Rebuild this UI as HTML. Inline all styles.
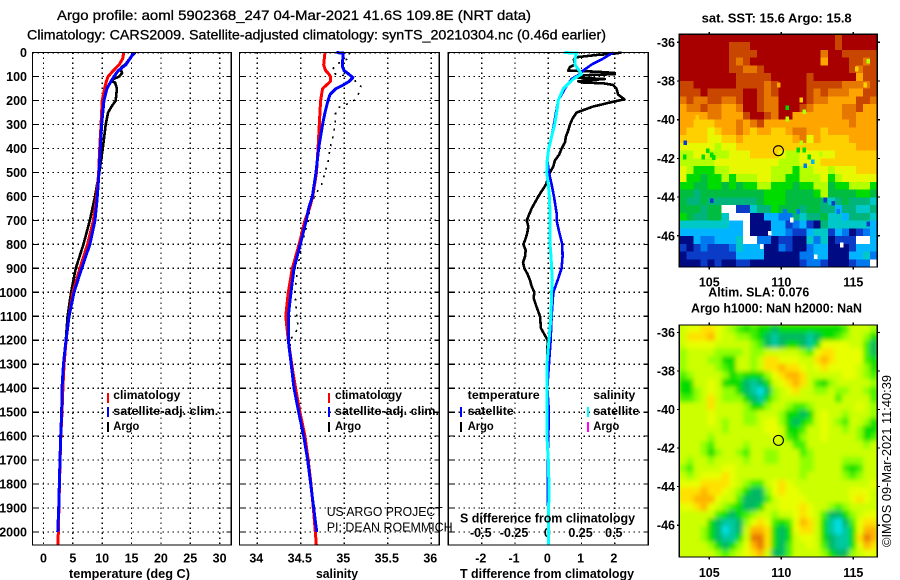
<!DOCTYPE html>
<html lang="en">
<head>
<meta charset="utf-8">
<title>Argo profile 5902368_247</title>
<style>
html,body{margin:0;padding:0;background:#fff;}
body{width:900px;height:580px;overflow:hidden;}
svg{display:block;font-family:"Liberation Sans",sans-serif;fill:#000;}
.b{font-weight:bold;font-size:12.5px;}
.t{font-size:14px;stroke:#000;stroke-width:.3px;}
.n{font-size:13px;}
.l{font-size:12px;font-weight:bold;}
</style>
</head>
<body>
<svg id="chart" xmlns="http://www.w3.org/2000/svg" width="900" height="580" viewBox="0 0 900 580">
  <defs>
    <clipPath id="clip-map-a"><rect x="679.3" y="34.3" width="198" height="232.7"/></clipPath>
    <clipPath id="clip-map-b"><rect x="679.3" y="325" width="198" height="232"/></clipPath>
    <filter id="soft" x="-5%" y="-5%" width="110%" height="110%"><feGaussianBlur stdDeviation="2.5"/></filter>
  </defs>
  <rect width="900" height="580" fill="#fff"/>
  <g id="marks"></g>

  <text class="t" x="57" y="20" textLength="474" lengthAdjust="spacingAndGlyphs">Argo profile: aoml 5902368_247 04-Mar-2021 41.6S 109.8E (NRT data)</text>
  <text class="t" x="27" y="39.5" textLength="579" lengthAdjust="spacingAndGlyphs">Climatology: CARS2009. Satellite-adjusted climatology: synTS_20210304.nc (0.46d earlier)</text>

  <text class="b" x="69" y="578" textLength="121" lengthAdjust="spacingAndGlyphs">temperature (deg C)</text>
  <text class="b" x="316" y="578" textLength="42" lengthAdjust="spacingAndGlyphs">salinity</text>
  <text class="b" x="460" y="578" textLength="174" lengthAdjust="spacingAndGlyphs">T difference from climatology</text>
  <text class="b" x="460" y="522.7" textLength="175" lengthAdjust="spacingAndGlyphs">S difference from climatology</text>

  <text class="l" x="113.3" y="399" textLength="67" lengthAdjust="spacingAndGlyphs">climatology</text>
  <text class="l" x="113.3" y="415" textLength="105" lengthAdjust="spacingAndGlyphs">satellite-adj. clim.</text>
  <text class="l" x="113.3" y="430" textLength="26" lengthAdjust="spacingAndGlyphs">Argo</text>

  <text class="l" x="335" y="399" textLength="67" lengthAdjust="spacingAndGlyphs">climatology</text>
  <text class="l" x="335" y="415" textLength="104" lengthAdjust="spacingAndGlyphs">satellite-adj. clim.</text>
  <text class="l" x="335" y="430" textLength="26" lengthAdjust="spacingAndGlyphs">Argo</text>

  <text class="l" x="467.7" y="399" textLength="72" lengthAdjust="spacingAndGlyphs">temperature</text>
  <text class="l" x="467.7" y="415" textLength="46" lengthAdjust="spacingAndGlyphs">satellite</text>
  <text class="l" x="467.7" y="430" textLength="26" lengthAdjust="spacingAndGlyphs">Argo</text>
  <text class="l" x="593.3" y="399" textLength="42" lengthAdjust="spacingAndGlyphs">salinity</text>
  <text class="l" x="593.3" y="415" textLength="46" lengthAdjust="spacingAndGlyphs">satellite</text>
  <text class="l" x="593.3" y="430" textLength="26" lengthAdjust="spacingAndGlyphs">Argo</text>

  <text class="n" x="326.7" y="516" textLength="116" lengthAdjust="spacingAndGlyphs">US ARGO PROJECT</text>
  <text class="n" x="326.7" y="531.7" textLength="126" lengthAdjust="spacingAndGlyphs">PI: DEAN ROEMMICH</text>

  <text class="b" x="701.7" y="22.7" textLength="150" lengthAdjust="spacingAndGlyphs">sat. SST: 15.6 Argo: 15.8</text>
  <text class="b" x="708.3" y="296.7" textLength="101" lengthAdjust="spacingAndGlyphs">Altim. SLA: 0.076</text>
  <text class="b" x="691" y="312.3" textLength="171" lengthAdjust="spacingAndGlyphs">Argo h1000: NaN h2000: NaN</text>
  <text class="n" transform="translate(891,547) rotate(-90)" textLength="172" lengthAdjust="spacingAndGlyphs">©IMOS 09-Mar-2021 11:40:39</text>
</svg>

<script>
/* ---------- axis ticks ---------- */
var depthTicks = [0,100,200,300,400,500,600,700,800,900,1000,1100,1200,1300,1400,1500,1600,1700,1800,1900,2000];
var tempTicks = [0,5,10,15,20,25,30];
var salTicks = [34,34.5,35,35.5,36];
var salTickLabels = ['34','34.5','35','35.5','36'];
var tDiffTicks = [-2,-1,0,1,2];
var sDiffTicks = [-0.5,-0.25,0,0.25,0.5];
var sDiffTickLabels = ['-0.5','-0.25','0','0.25','0.5'];
var lonTicks = [105,110,115];
var latTicks = [-36,-38,-40,-42,-44,-46];

/* ---------- temperature panel ---------- */
var satTempDepth = [0,50,75,100,120,150,200,300,400,500,600,700,800,900,1000,1100,1200,1300,1400,1500,1600,1700,1800,1900,2000];
var satTemp = [15.4,14.05,12.75,12,11.5,10.8,10.3,9.9,9.68,9.45,9.17,8.77,7.9,6.5,5.2,4.35,3.83,3.4,3.15,3.1,2.93,2.81,2.7,2.6,2.42];
var climTempDepth = [0,25,50,75,100,125,150,175,200,300,400,500,600,700,800,900,1000,1100,1200,1300,1400,1500,1600,1700,1800,1900,2000,2053];
var climTemp = [13.66,13.5,12.9,11.9,11,10.65,10.4,10.2,10,9.8,9.57,9.4,9.05,8.5,7.5,6.2,5,4.35,3.85,3.5,3.3,3.15,2.95,2.83,2.72,2.62,2.53,2.45];
var argoTempDepth = [0,25,50,60,75,85,100,110,120,125,150,200,225,250,300,400,500,600,700,800,900,1000,1100,1200,1300,1400,1500,2000];
var argoTemp = [15.6,14.7,13.9,13.3,13.2,13.4,12.9,11.9,11.6,12.2,12.5,12.3,11.6,11,10.6,10.1,9.5,8.77,7.9,6.8,5.5,4.7,4.1,3.8,3.4,3.15,3.1,2.42];

/* ---------- salinity panel ---------- */
var climSalDepth = [0,25,50,60,75,90,100,120,135,150,200,250,300,400,500,600,650,700,800,900,1000,1100,1200,1300,1400,1500,1600,1700,1800,1900,2000,2053];
var climSal = [34.778,34.77,34.763,34.77,34.786,34.824,34.84,34.84,34.797,34.75,34.728,34.72,34.713,34.698,34.68,34.637,34.6,34.548,34.48,34.403,34.356,34.327,34.356,34.395,34.44,34.49,34.548,34.585,34.617,34.644,34.667,34.678];
var satSalDepth = [0,2,50,60,75,85,100,105,120,135,150,175,200,250,300,350,400,500,600,650,700,800,900,1000,1100,1200,1300,1400,1500,1600,1700,1800,1900,2000];
var satSal = [34.912,34.989,34.977,34.98,34.997,35.035,35.085,35.097,35.057,34.989,34.905,34.836,34.813,34.778,34.75,34.727,34.705,34.675,34.633,34.59,34.563,34.494,34.422,34.387,34.356,34.356,34.39,34.422,34.476,34.533,34.579,34.614,34.648,34.683];
var argoSalDepth = [0,25,30,50,75,90,100,125,140,175,200,215,230,250,300,350,400,450,500,550,600,650,700,800,900,1000,1100,1150,1200,1300,1400];
var argoSal = [35.057,35.057,35.008,34.905,34.855,34.9,35.12,35.13,35.19,35.16,35.11,35.03,34.93,34.9,34.893,34.87,34.836,34.816,34.778,34.74,34.655,34.606,34.587,34.51,34.464,34.433,34.453,34.47,34.376,34.39,34.43];

/* ---------- difference panel ---------- */
var argoDiffDepth = [0,5,10,20,30,50,60,75,80,85,90,95,105,110,115,120,125,128,135,150,175,195,205,225,250,275,300,325,350,375,400,425,450,475,500,550,600,650,700,725,750,775,800,825,850,875,900,925,950,975,1000,1025,1050,1100,1150,1175,1200,1300,2000];
var argoDiff = [2.2,1.95,1.45,0.8,0.77,0.8,0.65,0.6,1.5,2,2,0.95,0.9,1.7,1.25,0.9,1.05,1.65,1.95,2.05,2.1,2.29,1.95,1.35,0.85,0.73,0.65,0.6,0.53,0.5,0.4,0.33,0.2,0.15,0.05,-0.07,-0.3,-0.5,-0.65,-0.6,-0.63,-0.68,-0.75,-0.68,-0.7,-0.76,-0.72,-0.62,-0.55,-0.5,-0.42,-0.44,-0.38,-0.25,-0.22,-0.12,-0.02,-0.03,0];
var satDiffDepth = [0,25,50,75,90,110,130,150,200,250,300,350,400,450,500,550,600,670,700,750,800,850,900,950,1000,1100,1200,1300,1400,1500,1700,2000];
var satDiff = [1.95,1.65,1.3,1.05,0.95,0.7,0.6,0.5,0.3,0.23,0.17,0.1,0.01,-0.03,0.02,0.1,0.17,0.25,0.25,0.33,0.42,0.43,0.4,0.28,0.15,0.1,0.07,0.02,-0.03,0.02,-0.02,0];
var satSalDiffDepth = [0,2,25,50,75,90,110,130,150,200,250,300,350,400,450,500,550,600,670,700,800,850,950,1000,1100,1200,1300,1400,1500,1600,1700,1800,2053];
var satSalDiff = [0.12,0.213,0.2,0.2,0.233,0.25,0.188,0.15,0.113,0.075,0.063,0.048,0.025,0.003,-0.008,-0.012,0,0.008,0.013,0.013,0.013,0.02,0.03,0.025,0.02,0.005,-0.01,-0.01,-0.01,-0.01,0,0.005,0];

/* ---------- SST map: colour levels, -1 = no data ---------- */
var sstLevels = [
[14,14,14,14,14,14,14,14,14,14,14,14,14,14,14,14,14,14,14,14,14,14,13,14,14,14,14,14],
[14,14,14,14,14,14,14,13,13,13,14,14,14,14,14,14,14,14,14,14,14,14,13,14,14,14,14,14],
[14,14,14,14,14,14,14,13,13,13,13,14,14,14,14,14,14,14,14,14,12,14,14,13,13,13,13,13],
[14,14,14,14,14,14,14,13,12,13,14,14,14,14,14,14,14,14,14,14,11,14,14,14,13,13,12,13],
[14,14,14,14,14,14,14,13,13,12,12,13,14,14,14,14,14,14,14,14,14,14,14,14,13,12,13,13],
[14,14,14,14,14,14,14,14,13,13,13,13,13,14,14,14,14,14,13,14,14,14,14,14,14,11,13,13],
[13,13,14,14,14,14,14,14,13,13,13,13,12,13,14,14,14,14,13,13,13,13,13,12,12,12,12,13],
[13,13,13,14,13,13,13,13,13,14,14,13,12,13,14,14,14,14,13,12,13,12,12,12,11,11,13,13],
[12,13,12,12,13,13,12,12,13,14,14,13,12,12,14,14,14,14,13,12,12,11,11,11,11,13,13,12],
[11,12,12,13,12,12,11,11,12,14,14,13,12,12,14,14,14,13,12,11,11,11,11,12,12,13,11,11],
[11,11,11,11,12,12,11,11,11,13,14,14,13,12,14,14,11,11,11,11,11,11,11,12,12,11,11,11],
[11,11,10,10,10,11,11,11,12,11,12,13,11,11,11,11,11,11,11,11,11,11,11,11,12,11,11,11],
[11,10,10,10,9,10,11,11,12,11,10,11,11,10,10,11,12,12,11,11,10,11,11,11,11,11,11,11],
[10,10,10,10,9,9,10,10,11,10,10,10,10,10,10,10,11,12,9,11,10,10,10,10,11,11,11,11],
[9,9,9,9,9,8,9,9,10,10,10,10,10,10,10,10,10,10,10,10,10,10,10,10,10,11,11,11],
[8,8,9,9,8,8,8,9,9,9,10,10,10,10,9,8,8,9,9,9,9,9,10,10,10,10,10,10],
[8,8,8,8,8,9,9,9,9,9,9,9,9,9,8,8,8,9,9,9,10,10,10,10,10,10,10,10],
[9,8,7,7,7,8,8,9,9,9,9,9,9,8,8,8,7,8,8,9,9,8,9,9,9,10,10,10],
[9,7,7,6,7,7,8,7,8,8,8,9,9,8,8,7,7,8,8,8,9,7,8,9,9,9,9,9],
[7,7,6,6,7,7,6,7,6,7,7,8,8,7,7,7,6,7,7,8,8,6,7,7,8,8,8,7],
[6,6,5,6,6,6,6,6,6,6,6,6,7,7,7,6,6,6,6,7,8,6,6,6,6,7,7,6],
[6,5,5,6,5,5,5,5,5,5,5,6,7,7,7,6,6,6,6,6,5,4,5,6,5,5,5,4],
[6,6,6,5,6,6,-1,-1,1,1,4,5,5,7,6,6,6,5,6,6,5,5,3,5,5,4,4,5],
[7,6,5,5,6,6,4,-1,-1,-1,0,0,3,3,2,2,5,4,5,5,6,4,4,3,5,5,5,4],
[4,4,4,4,4,4,4,3,3,-1,0,0,0,3,3,1,2,3,1,0,5,4,4,4,4,4,4,3],
[3,3,3,3,3,3,3,3,3,-1,0,0,0,3,3,2,1,1,3,4,4,1,3,2,0,1,2,3],
[0,0,3,2,2,3,3,3,4,-1,-1,2,2,0,1,1,0,0,4,2,4,0,1,1,1,-1,-1,3],
[1,0,1,2,1,1,1,2,4,3,3,3,0,0,2,1,0,0,2,3,3,0,0,0,1,3,3,3],
[0,1,1,1,1,1,1,1,3,3,3,3,0,0,0,0,0,2,2,3,3,0,0,0,3,3,4,2],
[0,0,0,1,0,1,0,0,1,1,0,0,0,0,0,0,0,1,2,2,1,0,0,0,1,2,2,-1]
];
var sstSpeckLon = [110.42,111.39,111.6,110.42,111.39,111.18,111.6,103.33,116.04,115.83,115.24,109.82,104.17,105.17,104.58,103.3,111.95,112.74,111.65,112.18,105.17,113.6,113.04,113.96,110.26,111.18,116.04,109.2,110.72,112.39,108.64,114.19,105.3,104.9];
var sstSpeckLat = [-39.38,-38.98,-39.59,-39.96,-41.19,-41.57,-41.57,-41.19,-36.98,-38.21,-37.38,-38.21,-39.88,-41.82,-41.93,-41.93,-41.93,-41.77,-42.38,-42.17,-44.19,-44.32,-44.15,-44.75,-44.75,-44.75,-45.39,-45.87,-45.18,-47.08,-46.56,-46.48,-41.95,-41.6];
var sstSpeckLevel = [7,10,8,8,8,7,7,1,8,10,10,11,10,7,7,7,7,8,2,3,1,1,1,2,2,2,1,-1,-1,-1,-1,-1,7,7];

/* ---------- SLA map: colour levels ---------- */
var slaLevels = [
[6,7,7,8,8,7,6,5,4,3,4,3,3,2,3,3,3,3,3,3,3,3,3,4,6,6,6,5],
[6,8,8,8,9,7,6,6,5,5,4,3,2,1,2,2,2,2,1,2,3,3,4,5,6,6,5,3],
[6,7,7,7,7,6,6,6,6,6,5,4,2,1,2,3,3,2,1,3,7,7,7,7,6,6,4,2],
[5,6,6,6,6,5,5,5,5,6,5,5,6,6,6,6,6,5,4,7,8,8,7,7,7,7,4,2],
[5,6,6,6,5,5,3,3,6,6,5,6,8,8,7,7,7,6,6,8,9,8,7,7,7,7,4,3],
[5,6,6,6,6,5,4,3,6,6,5,6,8,8,9,8,8,7,6,7,8,7,7,7,7,6,5,3],
[4,5,6,6,6,6,5,3,4,3,3,3,5,7,8,9,9,8,6,6,6,6,6,7,7,6,5,4],
[3,3,6,6,7,6,3,3,3,2,1,2,3,6,7,8,9,8,6,4,3,5,6,6,6,6,6,5],
[3,3,5,6,7,6,5,5,3,2,1,0,2,5,6,7,8,6,6,5,5,6,5,5,6,6,5,4],
[4,4,5,6,8,6,5,5,5,3,2,1,3,5,6,6,6,6,6,6,6,6,4,6,6,6,6,4],
[6,6,6,6,8,6,6,6,6,5,3,3,5,6,6,5,4,4,5,6,6,6,6,6,6,7,6,5],
[6,6,6,6,7,6,6,6,6,5,5,6,6,6,5,3,3,2,3,6,7,6,6,5,6,6,6,5],
[6,6,6,6,7,6,5,6,6,5,5,6,7,7,5,3,2,3,4,6,7,6,5,4,6,6,5,3],
[6,6,6,6,6,6,5,6,6,6,6,6,7,7,6,3,3,4,6,6,7,6,6,5,6,5,3,3],
[6,6,6,6,5,6,6,6,6,6,6,6,6,7,6,4,3,5,6,6,7,6,6,6,6,5,3,4],
[6,6,6,5,4,6,6,6,6,5,6,6,6,6,6,6,4,4,6,6,6,6,6,6,6,6,5,6],
[6,6,6,5,3,5,6,6,5,4,6,6,5,5,6,6,6,4,5,6,6,6,6,6,6,6,6,6],
[6,5,6,6,5,6,6,6,6,5,6,6,5,5,6,6,6,5,5,6,6,6,6,5,5,5,6,6],
[5,4,6,6,6,6,7,7,6,6,6,6,6,6,6,6,6,5,5,6,6,6,6,4,3,4,6,6],
[6,5,6,7,7,7,8,7,6,6,6,6,6,6,6,6,6,5,6,6,6,6,6,5,4,5,6,6],
[7,7,7,8,8,8,8,7,6,5,4,4,6,7,8,7,6,6,6,6,6,6,6,6,6,6,6,7],
[8,8,8,9,8,8,7,6,5,3,2,2,5,7,8,7,7,6,6,6,6,6,6,6,7,7,7,6],
[8,8,9,9,9,7,6,6,4,2,2,2,4,6,7,7,7,7,6,6,6,6,6,6,7,8,7,6],
[7,7,8,9,7,6,5,4,3,2,2,3,6,6,7,7,7,8,7,6,6,5,4,5,6,6,6,6],
[6,6,6,6,6,4,3,2,3,4,5,6,6,5,6,6,7,8,7,6,4,2,2,3,5,6,7,7],
[6,6,6,6,3,2,1,1,2,5,7,8,7,4,3,4,7,9,8,6,3,1,0,2,4,7,8,8],
[6,6,6,5,3,2,0,1,2,6,9,9,8,3,2,3,7,8,8,6,3,1,0,1,3,7,9,9],
[6,6,6,5,3,2,1,1,3,6,10,10,8,3,2,3,6,7,7,6,3,2,1,1,3,8,10,9],
[6,6,6,6,5,3,2,3,5,7,9,10,8,3,2,4,6,6,7,6,4,2,1,1,3,7,9,8],
[6,6,6,6,6,5,4,5,6,7,8,9,6,2,2,4,6,6,6,6,5,3,2,2,5,6,7,7]
];
var floatLon = [109.8];
var floatLat = [-41.6];

/* ---------- colour ramps ---------- */
var sstColors = ['#000a82','#0a3cc8','#0078f0','#00b4ff','#00c8c8','#00b47c','#00bc40','#00dc00','#b4ff00','#e8f800','#ffd000','#ffa500','#e67800','#c84600','#a80000'];
var slaColors = ['#00e0e8','#00c8a0','#00b864','#00dc00','#40f000','#90ff00','#ccff00','#e8ff00','#ffe000','#ffb400','#e87800'];

/* ---------- axis functions ---------- */
function yDepth(d){ return 52.6 + d*0.2397; }
function xTemp(v){ return 43.5 + v*5.87; }
function xSal(v){ return 257.3 + (v-34)*87; }
function xTDiff(v){ return 548.3 + v*33.25; }
function xSDiff(v){ return 548.3 + v*133; }
function xLon(v){ return 709.3 + (v-105)*14.4; }
function yLatA(v){ return 42.3 + (-36-v)*19.35; }
function yLatB(v){ return 332.4 + (-36-v)*19.28; }

var NS = 'http://www.w3.org/2000/svg';
var root = document.getElementById('marks');
var plotTop = 52.6, plotBottom = 545;

function make(tag, attrs, parent){
  var el = document.createElementNS(NS, tag);
  for (var k in attrs) el.setAttribute(k, attrs[k]);
  (parent || root).appendChild(el);
  return el;
}
function addGridLine(x1,y1,x2,y2,parent){
  var el = make('line',{x1:x1,y1:y1,x2:x2,y2:y2,stroke:'#000','stroke-width':1.3,'stroke-dasharray':'1.5 3.5','shape-rendering':'crispEdges'},parent);
  
  
}
function addTick(x1,y1,x2,y2,parent){
  var el = make('line',{x1:x1,y1:y1,x2:x2,y2:y2,stroke:'#000','stroke-width':1.2,'shape-rendering':'crispEdges'},parent);
  
  
}
function addLabel(str,x,y,anchor,parent){
  var el = make('text',{x:x,y:y,'text-anchor':anchor,'class':'b'},parent);
  el.textContent = str;
  
  
}
function addFrame(x,y,w,h,parent){
  var el = make('rect',{x:x,y:y,width:w,height:h,fill:'none',stroke:'#000','stroke-width':1.3,'shape-rendering':'crispEdges'},parent);
  
  
}
function addLine(depths,vals,xf,color,width,dash,name,parent){
  var pts = [];
  for (var i=0;i<vals.length;i++){ pts.push(xf(vals[i]).toFixed(2)+','+yDepth(depths[i]).toFixed(2)); }
  var attrs = {points:pts.join(' '),fill:'none',stroke:color,'stroke-width':width,'stroke-linejoin':'round','shape-rendering':'crispEdges'};
  if (dash) attrs['stroke-dasharray'] = dash;
  var el = make('polyline',attrs,parent);
  
  
}
function addSwatch(x,y,color){
  var el = make('rect',{x:x,y:y,width:2.2,height:10,fill:color,'shape-rendering':'crispEdges'});
  
  
}

/* ---------- profile panels ---------- */
function panel(left,right,xTicks,xf,showDepthLabels,name){
  var g = make('g',{});
  
  
  depthTicks.forEach(function(d){
    addGridLine(left,yDepth(d),right,yDepth(d),g);
    addTick(left,yDepth(d),left+5,yDepth(d),g);
    addTick(right-5,yDepth(d),right,yDepth(d),g);
    if (showDepthLabels) addLabel(String(d),27,yDepth(d)+4.5,'end',g);
  });
  xTicks.forEach(function(v){
    addGridLine(xf(v),plotTop,xf(v),plotBottom,g);
  });
  return g;
}

var gT = panel(32.4,231.3,tempTicks,xTemp,true,'temperature-panel');
tempTicks.forEach(function(v){ addLabel(String(v),xTemp(v),562.7,'middle',gT); });
addLine(argoTempDepth,argoTemp,xTemp,'#000',2.6,null,'argo-temperature-line',gT);
addLine(climTempDepth,climTemp,xTemp,'#f00',3,null,'climatology-temperature-line',gT);
addLine(satTempDepth,satTemp,xTemp,'#00f',3,null,'satellite-temperature-line',gT);
addFrame(32.4,plotTop,198.9,plotBottom-plotTop,gT);

var gS = panel(239.5,439.3,salTicks,xSal,false,'salinity-panel');
salTicks.forEach(function(v,i){ addLabel(salTickLabels[i],xSal(v)-1,562.7,'middle',gS); });
addLine(argoSalDepth,argoSal,xSal,'#000',1.6,'2 6','argo-salinity-dotted-line',gS);
addLine(climSalDepth,climSal,xSal,'#f00',3,null,'climatology-salinity-line',gS);
addLine(satSalDepth,satSal,xSal,'#00f',3,null,'satellite-salinity-line',gS);
addFrame(239.5,plotTop,199.8,plotBottom-plotTop,gS);

var gD = panel(448.3,648.3,tDiffTicks,xTDiff,false,'difference-panel');
tDiffTicks.forEach(function(v){ addLabel(String(v),xTDiff(v)-1,562.7,'middle',gD); });
sDiffTicks.forEach(function(v,i){ addLabel(sDiffTickLabels[i],xSDiff(v)-1,537,'middle',gD); });
addLine(argoDiffDepth,argoDiff,xTDiff,'#000',2.6,null,'argo-temperature-difference-line',gD);
addLine(satDiffDepth,satDiff,xTDiff,'#00f',2.6,null,'satellite-temperature-difference-line',gD);
addLine(satSalDiffDepth,satSalDiff,xSDiff,'#0ff',3,null,'satellite-salinity-difference-line',gD);
addFrame(448.3,plotTop,200,plotBottom-plotTop,gD);

addSwatch(107,393,'#f00'); addSwatch(107,407,'#00f'); addSwatch(107,422,'#000');
addSwatch(328,393,'#f00'); addSwatch(328,407,'#00f'); addSwatch(328,422,'#000');
addSwatch(460,407,'#00f'); addSwatch(460,422,'#000');
addSwatch(587,407,'#0ff'); addSwatch(587,422,'#f0f');

/* ---------- maps ---------- */
var mapLon0 = 102.917, mapDLon = 0.491;
function drawCells(levels,colors,yf,lat0,dLat,parent,name){
  levels.forEach(function(row,r){
    row.forEach(function(v,c){
      var x0 = xLon(mapLon0+c*mapDLon), x1 = xLon(mapLon0+(c+1)*mapDLon);
      var y0 = yf(lat0+r*dLat), y1 = yf(lat0+(r+1)*dLat);
      var cell = make('rect',{x:x0.toFixed(2),y:y0.toFixed(2),width:(x1-x0+0.4).toFixed(2),height:(y1-y0+0.4).toFixed(2),fill:v<0?'#fff':colors[v]},parent);
      
      
    });
  });
}
function mapAxes(yf,top,h,labelOff,g){
  lonTicks.forEach(function(v){
    addTick(xLon(v),top-2.5,xLon(v),top,g);
    addTick(xLon(v),top+h,xLon(v),top+h+2.5,g);
    addLabel(String(v),xLon(v),top+h+labelOff,'middle',g);
  });
  latTicks.forEach(function(v){
    addTick(676.8,yf(v),679.3,yf(v),g);
    addTick(877.3,yf(v),879.8,yf(v),g);
    addLabel(String(v),675,yf(v)+4.5,'end',g);
  });
  addFrame(679.3,top,198,h,g);
}
function addFloatMarker(yf,g){
  var c = make('circle',{cx:xLon(floatLon[0]),cy:yf(floatLat[0]),r:5,fill:'none',stroke:'#000','stroke-width':1.1},g);
  
  
}

var gA = make('g',{});


var cellsA = make('g',{'clip-path':'url(#clip-map-a)','shape-rendering':'crispEdges'},gA);


drawCells(sstLevels,sstColors,yLatA,-35.59,-0.4009,cellsA,'sst-cell');
sstSpeckLevel.forEach(function(v,i){
  var s = make('rect',{x:xLon(sstSpeckLon[i])-1.8,y:yLatA(sstSpeckLat[i])-2.4,width:3.6,height:4.8,fill:v<0?'#fff':sstColors[v]},cellsA);
  
  
});
addFloatMarker(yLatA,gA);
mapAxes(yLatA,34.3,232.7,19.7,gA);

var gB = make('g',{});


var clipB = make('g',{'clip-path':'url(#clip-map-b)'},gB);


var bgB = make('rect',{x:679.3,y:325,width:198,height:232,fill:'#ccff00'},clipB);


var cellsB = make('g',{filter:'url(#soft)'},clipB);


drawCells(slaLevels,slaColors,yLatB,-35.62,-0.4012,cellsB,'sla-cell');
addFloatMarker(yLatB,gB);
mapAxes(yLatB,325,232,20,gB);
</script>
</body>
</html>
